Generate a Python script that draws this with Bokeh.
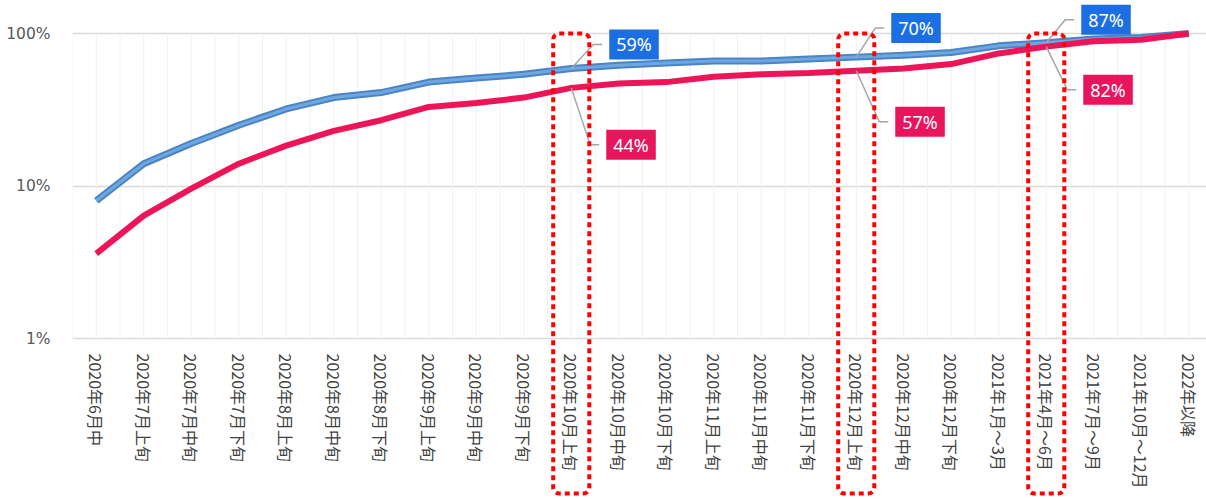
import math
import numpy as np
from bokeh.plotting import figure
from bokeh.models import (Range1d, FixedTicker, NumeralTickFormatter, Label,
                          BoxAnnotation)
from bokeh.embed import file_html
from bokeh.resources import INLINE

# ---- data -------------------------------------------------------------
categories = [
    "2020年6月中", "2020年7月上旬", "2020年7月中旬", "2020年7月下旬",
    "2020年8月上旬", "2020年8月中旬", "2020年8月下旬", "2020年9月上旬",
    "2020年9月中旬", "2020年9月下旬", "2020年10月上旬", "2020年10月中旬",
    "2020年10月下旬", "2020年11月上旬", "2020年11月中旬", "2020年11月下旬",
    "2020年12月上旬", "2020年12月中旬", "2020年12月下旬", "2021年1月～3月",
    "2021年4月～6月", "2021年7月～9月", "2021年10月～12月", "2022年以降",
]
blue_values = [0.080, 0.140, 0.190, 0.250, 0.320, 0.380, 0.410, 0.480,
               0.510, 0.540, 0.590, 0.620, 0.640, 0.660, 0.660, 0.680,
               0.700, 0.720, 0.750, 0.830, 0.870, 0.920, 0.940, 1.000]
pink_values = [0.036, 0.064, 0.096, 0.140, 0.184, 0.230, 0.270, 0.330,
               0.350, 0.380, 0.440, 0.470, 0.480, 0.520, 0.540, 0.550,
               0.570, 0.590, 0.630, 0.740, 0.820, 0.890, 0.910, 1.000]
highlight_idx = [10, 16, 20]
y_ticks = [0.01, 0.1, 1.0]

# ---- layout -----------------------------------------------------------
W, H = 1206, 499
LEFT = 72
AXIS_Y = 338        # pixel row of the 1% baseline
XPX = 47.5          # pixels per category
YPX = 152.5         # pixels per decade
x_end = -0.5 + (W - LEFT) / XPX
y_end = y_ticks[0] * 10 ** (AXIS_Y / YPX)
y_start = y_ticks[0] * 10 ** (-(H - AXIS_Y) / YPX)

BLUE_LINE, BLUE_EDGE, BLUE_BOX = "#6ea7df", "#4a84c6", "#1c6fe3"
PINK_LINE, PINK_BOX = "#ee1458", "#e8155c"

p = figure(width=W, height=H, x_range=Range1d(-0.5, x_end),
           y_range=Range1d(y_start, y_end), y_axis_type="log",
           output_backend="svg", toolbar_location=None,
           min_border_left=LEFT, min_border_right=0, min_border_top=0,
           min_border_bottom=0)
p.outline_line_color = None
p.background_fill_color = "white"
p.border_fill_color = "white"

# horizontal grid on decades
p.ygrid.ticker = FixedTicker(ticks=y_ticks)
p.ygrid.grid_line_color = "#d9d9d9"
p.ygrid.grid_line_width = 1.5
p.xgrid.visible = False

# faint vertical guides at category centres and boundaries
xs = np.arange(-0.5, len(categories), 0.5)
p.segment(x0=xs, y0=[y_ticks[0]] * len(xs), x1=xs, y1=[y_ticks[-1]] * len(xs),
          line_color="#f1f1f1", line_width=1)

# axes
p.yaxis.ticker = FixedTicker(ticks=y_ticks)
p.yaxis.formatter = NumeralTickFormatter(format="0%")
p.yaxis.axis_line_color = None
p.yaxis.major_tick_line_color = None
p.yaxis.minor_tick_line_color = None
p.yaxis.major_label_text_font = "DejaVu Sans"
p.yaxis.major_label_text_font_size = "15.5px"
p.yaxis.major_label_text_color = "#595959"
p.yaxis.major_label_standoff = 16

# category labels hang below the 1% baseline
p.xaxis.fixed_location = y_ticks[0]
p.xaxis.ticker = FixedTicker(ticks=list(range(len(categories))))
p.xaxis.major_label_overrides = {i: c for i, c in enumerate(categories)}
p.xaxis.major_label_orientation = -math.pi / 2
p.xaxis.axis_line_color = None
p.xaxis.major_tick_line_color = None
p.xaxis.minor_tick_line_color = None
p.xaxis.major_label_text_font = "Noto Sans CJK JP"
p.xaxis.major_label_text_font_size = "16px"
p.xaxis.major_label_text_color = "#404040"
p.xaxis.major_label_standoff = 9

# series
x = list(range(len(categories)))
p.line(x, blue_values, line_color=BLUE_EDGE, line_width=7, line_join="round")
p.line(x, blue_values, line_color=BLUE_LINE, line_width=3, line_join="round")
p.line(x, pink_values, line_color=PINK_LINE, line_width=6, line_join="round")

# dotted highlight frames around selected periods
for i in highlight_idx:
    p.add_layout(BoxAnnotation(left=i - 0.38, right=i + 0.38, top=1.0,
                               bottom=H - 6, bottom_units="canvas",
                               fill_alpha=0, line_color="#ff0000",
                               line_alpha=1.0, line_width=4,
                               line_dash="5 4", border_radius=6))

# callouts: (index, series, box left offset px, box centre offset px downward)
callouts = [
    (10, "blue", 31, -24), (10, "pink", 28, 57),
    (16, "blue", 28, -29), (16, "pink", 32, 51),
    (20, "blue", 28, -23), (20, "pink", 30, 43),
]


def shift(i, v, dx, dy):
    return i + dx / XPX, v * 10 ** (-dy / YPX)


for i, series, dx, dy in callouts:
    v = blue_values[i] if series == "blue" else pink_values[i]
    ex, ey = shift(i, v, dx - 9, dy)
    bx, by = shift(i, v, dx, dy)
    p.line([i, ex, bx], [v, ey, by], line_color="#a6a6a6", line_width=1.5)
    p.add_layout(Label(x=i, y=v, x_offset=dx + 7, y_offset=-dy,
                       text=f"{round(v * 100)}%", text_color="white",
                       text_font="Noto Sans", text_font_size="18px",
                       text_font_style="normal", text_align="left",
                       text_baseline="middle",
                       background_fill_color=BLUE_BOX if series == "blue" else PINK_BOX,
                       padding=(7, 3)))

open("out.html", "w").write(file_html(p, INLINE))
